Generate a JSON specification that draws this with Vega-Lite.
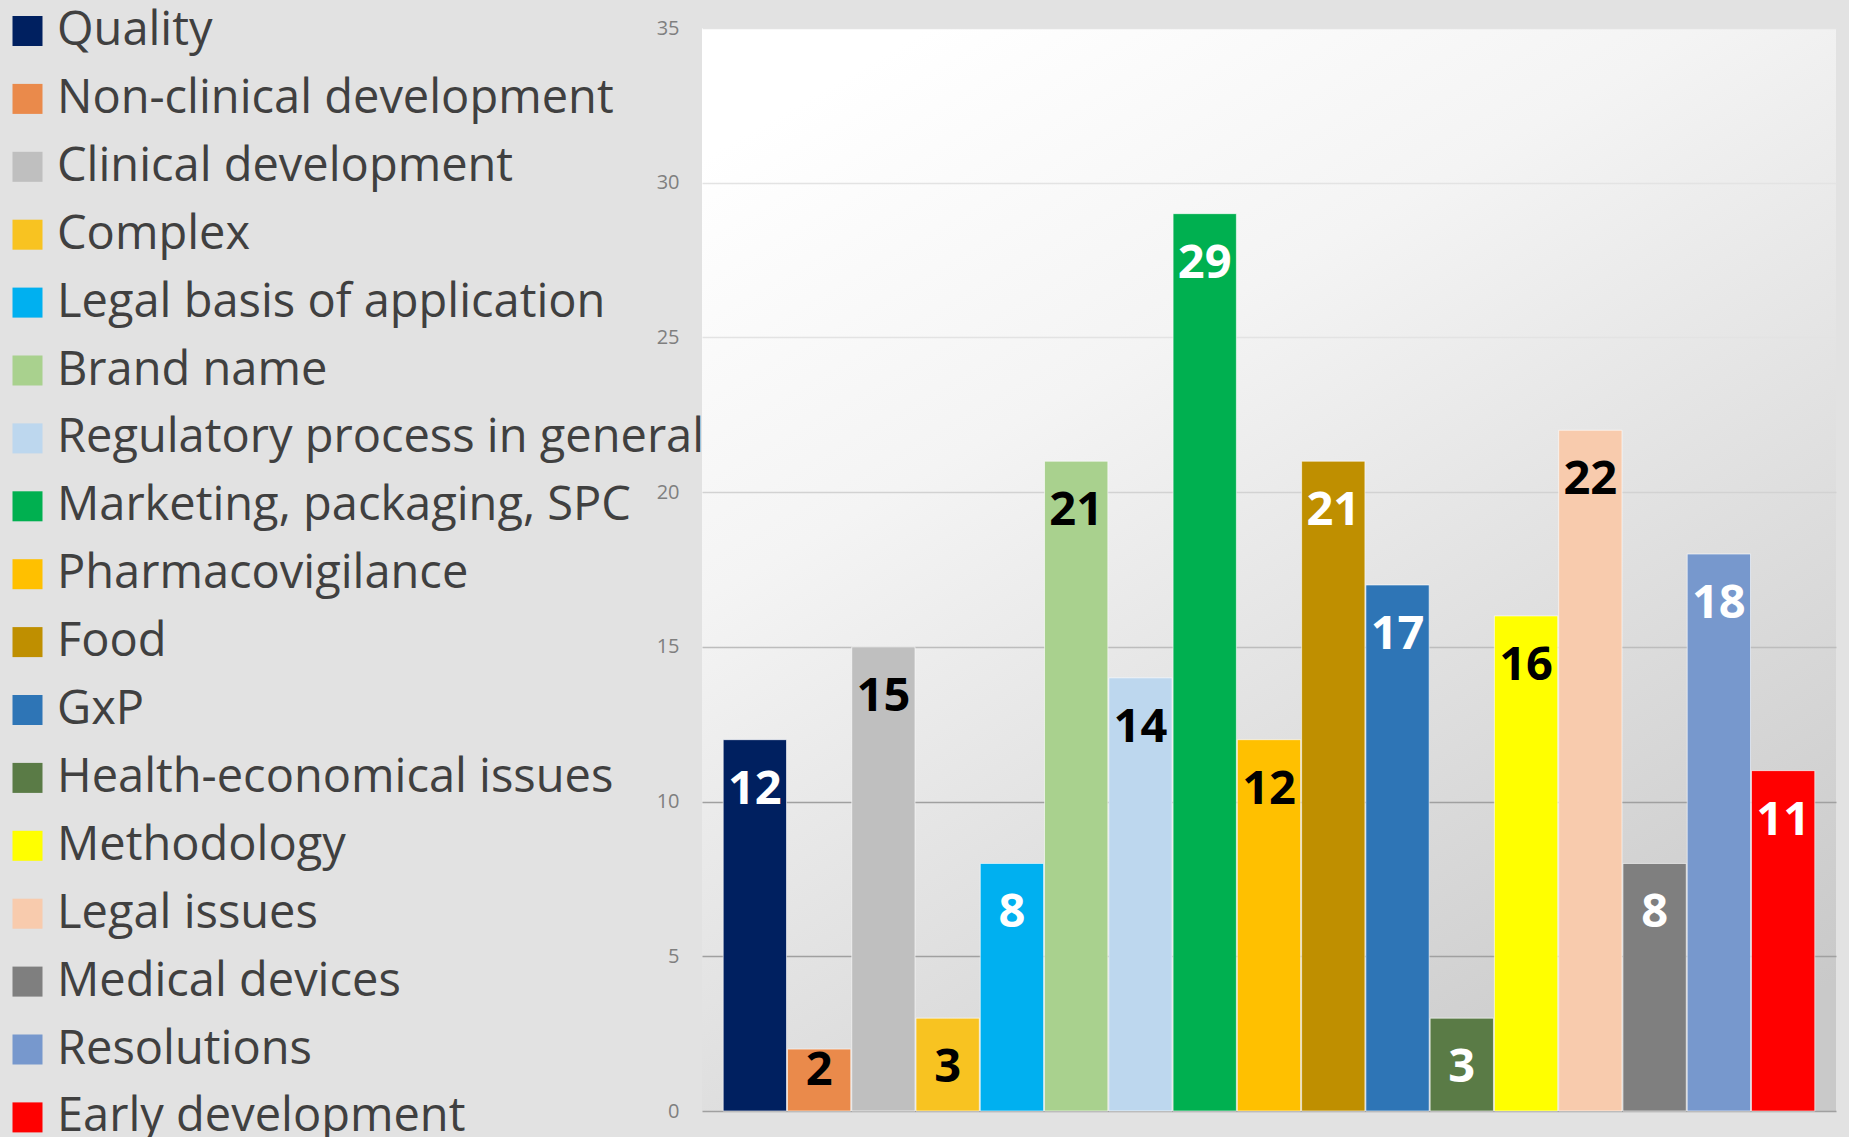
{
  "$schema": "https://vega.github.io/schema/vega-lite/v6.json",
  "width": 1134,
  "height": 1083,
  "autosize": {"type": "none"},
  "padding": {"left": 702, "top": 28, "right": 13, "bottom": 26},
  "background": "#e2e2e2",
  "config": {
    "font": "Open Sans",
    "view": {
      "stroke": null,
      "fill": {
        "gradient": "linear",
        "x1": 0.2, "y1": 0, "x2": 0.8, "y2": 1,
        "stops": [
          {"offset": 0, "color": "#ffffff"},
          {"offset": 0.3, "color": "#f4f4f4"},
          {"offset": 1, "color": "#c9c9c9"}
        ]
      }
    },
    "axisY": {
      "domain": false,
      "ticks": false,
      "grid": true,
      "gridWidth": 1.5,
      "gridColor": {
        "condition": [
          {"test": "datum.value >= 25", "value": "#e3e3e3"},
          {"test": "datum.value >= 20", "value": "#d2d2d2"},
          {"test": "datum.value >= 15", "value": "#bdbdbd"}
        ],
        "value": "#a0a0a0"
      },
      "labelFont": "Open Sans",
      "labelFontSize": 20,
      "labelColor": "#7f7f7f",
      "labelPadding": 23,
      "title": null
    },
    "legend": {
      "orient": "none",
      "legendX": -698,
      "legendY": -20.5,
      "padding": 0,
      "symbolType": "square",
      "symbolSize": 900,
      "symbolStrokeWidth": 0,
      "labelFont": "Open Sans",
      "labelFontSize": 47,
      "labelColor": "#404040",
      "labelLimit": 1000,
      "labelOffset": 6,
      "rowPadding": 19.9
    }
  },
  "datasets": {
    "bars": [
      {"category": "Quality", "value": 12},
      {"category": "Non-clinical development", "value": 2},
      {"category": "Clinical development", "value": 15},
      {"category": "Complex", "value": 3},
      {"category": "Legal basis of application", "value": 8},
      {"category": "Brand name", "value": 21},
      {"category": "Regulatory process in general", "value": 14},
      {"category": "Marketing, packaging, SPC", "value": 29},
      {"category": "Pharmacovigilance", "value": 12},
      {"category": "Food", "value": 21},
      {"category": "GxP", "value": 17},
      {"category": "Health-economical issues", "value": 3},
      {"category": "Methodology", "value": 16},
      {"category": "Legal issues", "value": 22},
      {"category": "Medical devices", "value": 8},
      {"category": "Resolutions", "value": 18},
      {"category": "Early development", "value": 11}
    ]
  },
  "layer": [
    {
      "data": {"name": "bars"},
      "mark": {"type": "bar", "stroke": "#ffffff", "strokeOpacity": 0.6, "strokeWidth": 1},
      "encoding": {
        "x": {
          "field": "category", "type": "nominal", "sort": null,
          "scale": {"paddingInner": 0.015, "paddingOuter": 0.33},
          "axis": null
        },
        "y": {
          "field": "value", "type": "quantitative",
          "scale": {"domain": [0, 35], "nice": false},
          "axis": {"title": null, "values": [0, 5, 10, 15, 20, 25, 30, 35]}
        },
        "color": {
          "field": "category", "type": "nominal",
          "scale": {
            "domain": ["Quality", "Non-clinical development", "Clinical development", "Complex", "Legal basis of application", "Brand name", "Regulatory process in general", "Marketing, packaging, SPC", "Pharmacovigilance", "Food", "GxP", "Health-economical issues", "Methodology", "Legal issues", "Medical devices", "Resolutions", "Early development"],
            "range": ["#002060", "#ea8a4b", "#bfbfbf", "#f8c321", "#00b0f0", "#a9d18e", "#bdd7ee", "#00b050", "#ffc000", "#bf8f00", "#2e75b6", "#5a7b46", "#ffff00", "#f8cbad", "#7f7f7f", "#7798cd", "#ff0000"]
          },
          "legend": {"title": null}
        }
      }
    },
    {
      "data": {"name": "bars"},
      "mark": {"type": "text", "baseline": "alphabetic", "align": "center", "dy": {"expr": "datum.value < 2.5 ? 36 : 64"}, "fontSize": 47, "fontWeight": "bold", "font": "Open Sans"},
      "encoding": {
        "x": {"field": "category", "type": "nominal", "sort": null},
        "y": {"field": "value", "type": "quantitative", "axis": {"title": null, "values": [0, 5, 10, 15, 20, 25, 30, 35]}},
        "text": {"field": "value", "type": "quantitative"},
        "color": {
          "condition": {
            "test": "indexof(['Quality','Legal basis of application','Marketing, packaging, SPC','Food','GxP','Health-economical issues','Medical devices','Resolutions','Early development'], datum.category) >= 0",
            "value": "#ffffff"
          },
          "value": "#000000"
        }
      }
    }
  ]
}
